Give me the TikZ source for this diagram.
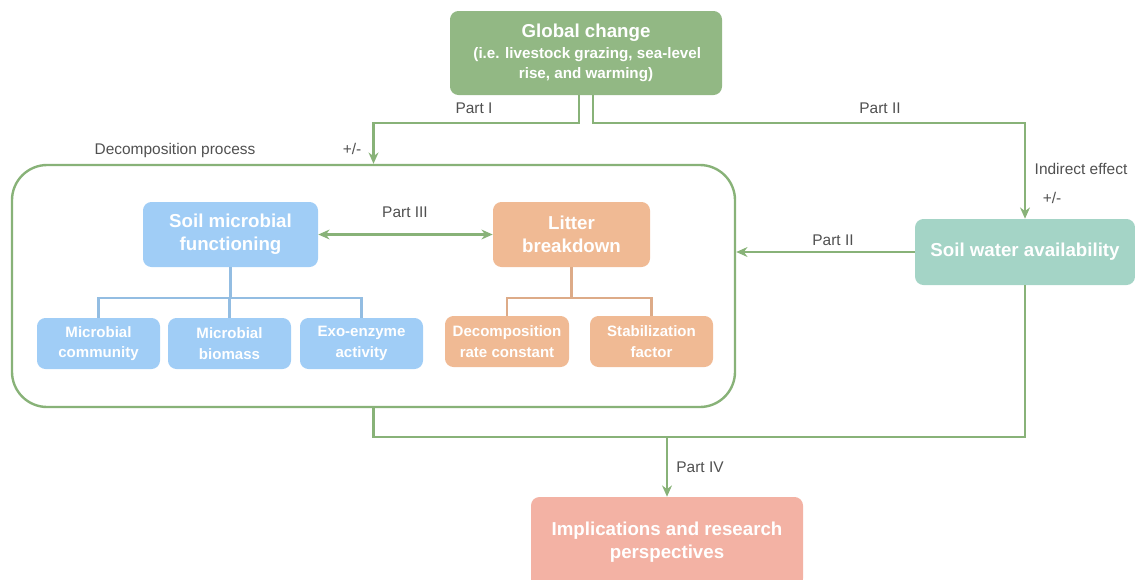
\documentclass[tikz,border=0pt]{standalone}
\usepackage{fontspec}
\setmainfont{Liberation Sans}
\usetikzlibrary{arrows.meta}
\begin{document}
\begin{tikzpicture}[x=0.025cm,y=-0.025cm,
  box/.style={rounded corners=6pt, text=white, align=center, inner sep=0pt, font=\bfseries\fontsize{13.3}{16.5}\selectfont},
  smallbox/.style={box, minimum width=123*\pix, minimum height=51*\pix, font=\bfseries\fontsize{10.7}{14.5}\selectfont},
  conn/.style={draw=linegreen, line width=1.7pt},
  arr/.style={conn, -{Stealth[length=8pt,width=7pt]}},
  tag/.style={text=labelgray, font=\fontsize{11}{13}\selectfont, inner sep=0pt}]
\pgfmathsetlengthmacro\pix{0.025cm};
\definecolor{linegreen}{RGB}{136,178,120}
\definecolor{labelgray}{RGB}{80,80,80}
\definecolor{globfill}{RGB}{146,184,132}
\definecolor{bluefill}{RGB}{160,205,246}
\definecolor{orangefill}{RGB}{240,186,148}
\definecolor{tealfill}{RGB}{164,212,198}
\definecolor{salmonfill}{RGB}{243,178,164}
\useasboundingbox (0,0) rectangle (1135,579);
\node[box, fill=globfill, minimum width=272*\pix, minimum height=84*\pix] (glob) at (586,53) {Global change\\[-2pt]{\fontsize{10.8}{15}\selectfont\,(i.e. livestock grazing, sea-level}\\[-2pt]{\fontsize{10.8}{15}\selectfont rise, and warming)}};
\node[draw=linegreen, line width=1.7pt, rounded corners=25pt, minimum width=723*\pix, minimum height=242*\pix, inner sep=0pt] (decomp) at (373.5,286) {};
\node[box, fill=bluefill, minimum width=175*\pix, minimum height=65*\pix] (smf) at (230.5,234.5) {Soil microbial\\functioning};
\node[box, fill=orangefill, minimum width=157*\pix, minimum height=65*\pix] (litter) at (571.5,234.5) {Litter\\breakdown};
\node[smallbox, fill=bluefill] (mc) at (98.5,343.5) {Microbial\\community};
\node[smallbox, fill=bluefill] (mb) at (229.5,343.5) {Microbial\\biomass};
\node[smallbox, fill=bluefill] (ea) at (361.5,343.5) {Exo-enzyme\\activity};
\node[smallbox, fill=orangefill, minimum width=124*\pix] (drc) at (507,341.5) {Decomposition\\rate constant};
\node[smallbox, fill=orangefill] (sf) at (651.5,341.5) {Stabilization\\factor};
\node[box, fill=tealfill, minimum width=220*\pix, minimum height=66*\pix] (swa) at (1025,252) {Soil water availability};
\node[box, fill=salmonfill, minimum width=272*\pix, minimum height=90*\pix] (impl) at (667,542) {Implications and research\\perspectives};
\coordinate (join) at (667,436);
\draw[arr] ([xshift=-7*\pix]glob.south) -- ++(0,28) -| (decomp.north);
\draw[arr] ([xshift=7*\pix]glob.south) -- ++(0,28) -| (swa.north);
\draw[arr] (swa.west) -- (swa.west -| decomp.east);
\draw[conn] (decomp.south) -- ++(0,29) -| (swa.south);
\draw[arr] (join) -- (impl.north);
\draw[conn, {Stealth[length=8pt,width=7pt]}-{Stealth[length=8pt,width=7pt]}] (smf.east) -- (litter.west);
\foreach \c in {mc,mb,ea} \draw[draw=bluefill!92!black, line width=1.6pt] (smf.south) -- ++(0,31) -| (\c.north);
\foreach \c in {drc,sf} \draw[draw=orangefill!92!black, line width=1.6pt] (litter.south) -- ++(0,31) -| (\c.north);
\node[tag] (p1) at (474,108) {Part I};
\node[tag] (pm1) at (352,149) {+/-};
\node[tag] (dp) at (175,150) {Decomposition process};
\node[tag] (p2a) at (880,108) {Part II};
\node[tag] (ie) at (1081,169) {Indirect effect};
\node[tag] (pm2) at (1052,198) {+/-};
\node[tag] (p3) at (405,212) {Part III};
\node[tag] (p2b) at (833,240) {Part II};
\node[tag] (p4) at (700,467) {Part IV};
\end{tikzpicture}
\end{document}
